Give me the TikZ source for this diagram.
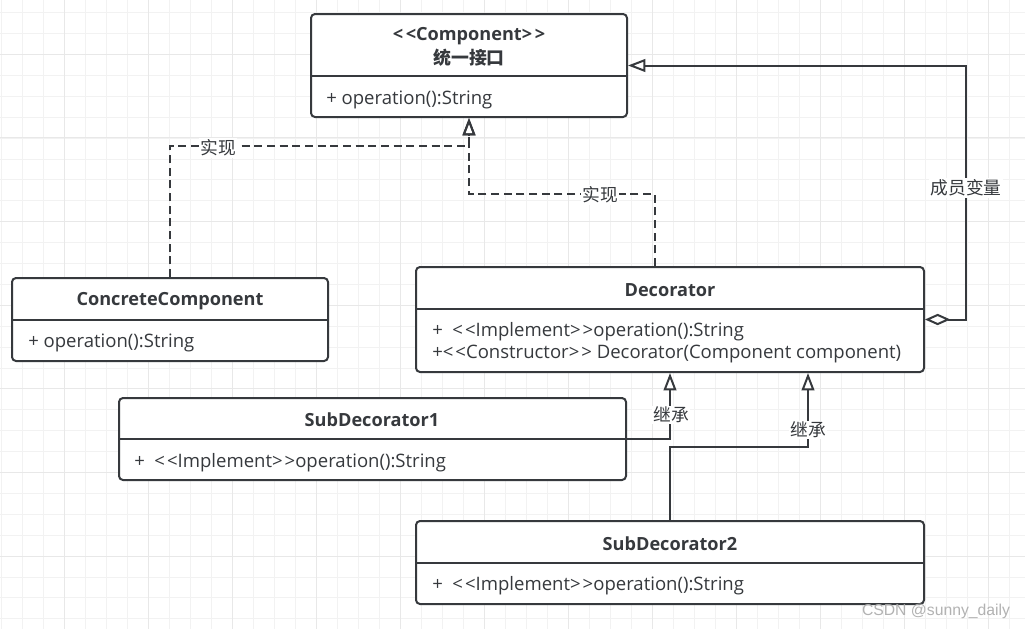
\documentclass[tikz,border=0pt]{standalone}
\usepackage{fontspec}
\setmainfont{Open Sans}[Ligatures=TeXOff]
\newfontfamily\cjk{Noto Sans CJK SC}
\newfontfamily\wmfont{Liberation Sans}
\usetikzlibrary{arrows.meta,fit,calc}
\definecolor{lc}{HTML}{36393D}
\definecolor{gridminor}{HTML}{F2F2F2}
\definecolor{gridmajor}{HTML}{E8E8E8}
\tikzset{
  classbox/.style={draw=lc, line width=1.5pt, rounded corners=3pt, inner sep=0pt, fill=white},
  divider/.style={draw=lc, line width=1.5pt},
  ctitle/.style={text=lc, font=\fontsize{13.6}{16}\selectfont\bfseries, inner sep=0pt},
  cattr/.style={text=lc, font=\fontsize{13.9}{17}\selectfont, inner sep=0pt, anchor=west, align=left},
  conn/.style={draw=lc, line width=1.5pt},
  realize/.style={conn, dash pattern=on 6pt off 3.5pt, -{Triangle[open,length=13pt,width=9.5pt]}},
  inherit/.style={conn, -{Triangle[open,length=13pt,width=9.5pt]}},
  aggr/.style={conn, {Diamond[open,length=19pt,width=8.5pt]}-{Triangle[open,length=13pt,width=9.5pt]}},
  elabel/.style={fill=white, text=lc, inner sep=1pt, font=\cjk\fontsize{13.3}{15}\selectfont}
}
\begin{document}
\begin{tikzpicture}[x=0.75pt,y=-0.75pt]
\useasboundingbox (0,0) rectangle (1025,629);
\fill[white] (0,0) rectangle (1025,629);
% grid
\foreach \i in {0,...,49} {
  \draw[gridminor, line width=0.75pt] ({1.3+21*\i},0) -- ({1.3+21*\i},629);
}
\foreach \i in {0,...,30} {
  \draw[gridminor, line width=0.75pt] (0,{12.7+20.9*\i}) -- (1025,{12.7+20.9*\i});
}
\foreach \i in {0,...,12} {
  \draw[gridmajor, line width=0.75pt] ({64.3+84*\i},0) -- ({64.3+84*\i},629);
}
\foreach \i in {-1,...,7} {
  \draw[gridmajor, line width=0.75pt] (0,{54+83.7*\i}) -- (1025,{54+83.7*\i});
}

% Component
\node[classbox, fit={(311,14) (627,117)}] (comp) {};
\draw[divider] (311,76) -- (627,76);
\node[ctitle] (compT1) at (469,36) {<\kern2pt<Component>\kern2pt>};
\node[ctitle, font=\cjk\fontsize{13.4}{16}\selectfont\bfseries] (compT2) at (469,58) {统一接口};
\node[cattr] (compA) at (326,100) {+ operation():String};

% ConcreteComponent
\node[classbox, fit={(12,278) (328,361)}] (cc) {};
\draw[divider] (12,320) -- (328,320);
\node[ctitle] (ccT) at (170,301) {ConcreteComponent};
\node[cattr] (ccA) at (28,343) {+ operation():String};

% Decorator
\node[classbox, fit={(416,267) (924,372)}] (dec) {};
\draw[divider] (416,309) -- (924,309);
\node[ctitle] (decT) at (670,290) {Decorator};
\node[cattr] (decA1) at (432,332) {+ \ <\kern1.5pt<Implement>\kern1.5pt>operation():String};
\node[cattr] (decA2) at (432,354) {+<\kern1.5pt<Constructor>\kern1.5pt> Decorator(Component component)};

% SubDecorator1
\node[classbox, fit={(119,398) (626,480)}] (sd1) {};
\draw[divider] (119,439) -- (626,439);
\node[ctitle] (sd1T) at (372,420) {SubDecorator1};
\node[cattr] (sd1A) at (134,463) {+ \ <\kern1.5pt<Implement>\kern1.5pt>operation():String};

% SubDecorator2
\node[classbox, fit={(416,521) (924,604)}] (sd2) {};
\draw[divider] (416,563) -- (924,563);
\node[ctitle] (sd2T) at (670,544) {SubDecorator2};
\node[cattr] (sd2A) at (432,586) {+ \ <\kern1.5pt<Implement>\kern1.5pt>operation():String};

% connectors
\coordinate (j1) at ($(comp.south)+(0,28)$);
\draw[realize] (cc.north) |- (j1) -- (comp.south);
\coordinate (dstart) at ($(dec.north)+(-15,0)$);
\coordinate (j2) at ($(comp.south)+(0,76)$);
\draw[realize] (dstart) |- (j2) -- (comp.south);
\coordinate (j3) at ($(comp.east)+(338,0)$);
\draw[aggr] (dec.east) -| (j3) -- (comp.east);
\draw[inherit] (sd1.east) -| (dec.south);
\coordinate (j5) at ($(dec.south)+(138,74)$);
\draw[inherit] (sd2.north) |- (j5) -- ($(dec.south)+(138,0)$);

% labels
\node[elabel] (l1) at (218,148) {实现};
\node[elabel] (l2) at (600,195) {实现};
\node[elabel] (l3) at (966,188) {成员变量};
\node[elabel] (l4) at (671,415) {继承};
\node[elabel] (l5) at (808,430) {继承};

% watermark
\node[text=black!30, font=\wmfont\fontsize{11.8}{13}\selectfont, inner sep=0pt] (wm) at (936,611) {CSDN @sunny\_daily};
\end{tikzpicture}
\end{document}
